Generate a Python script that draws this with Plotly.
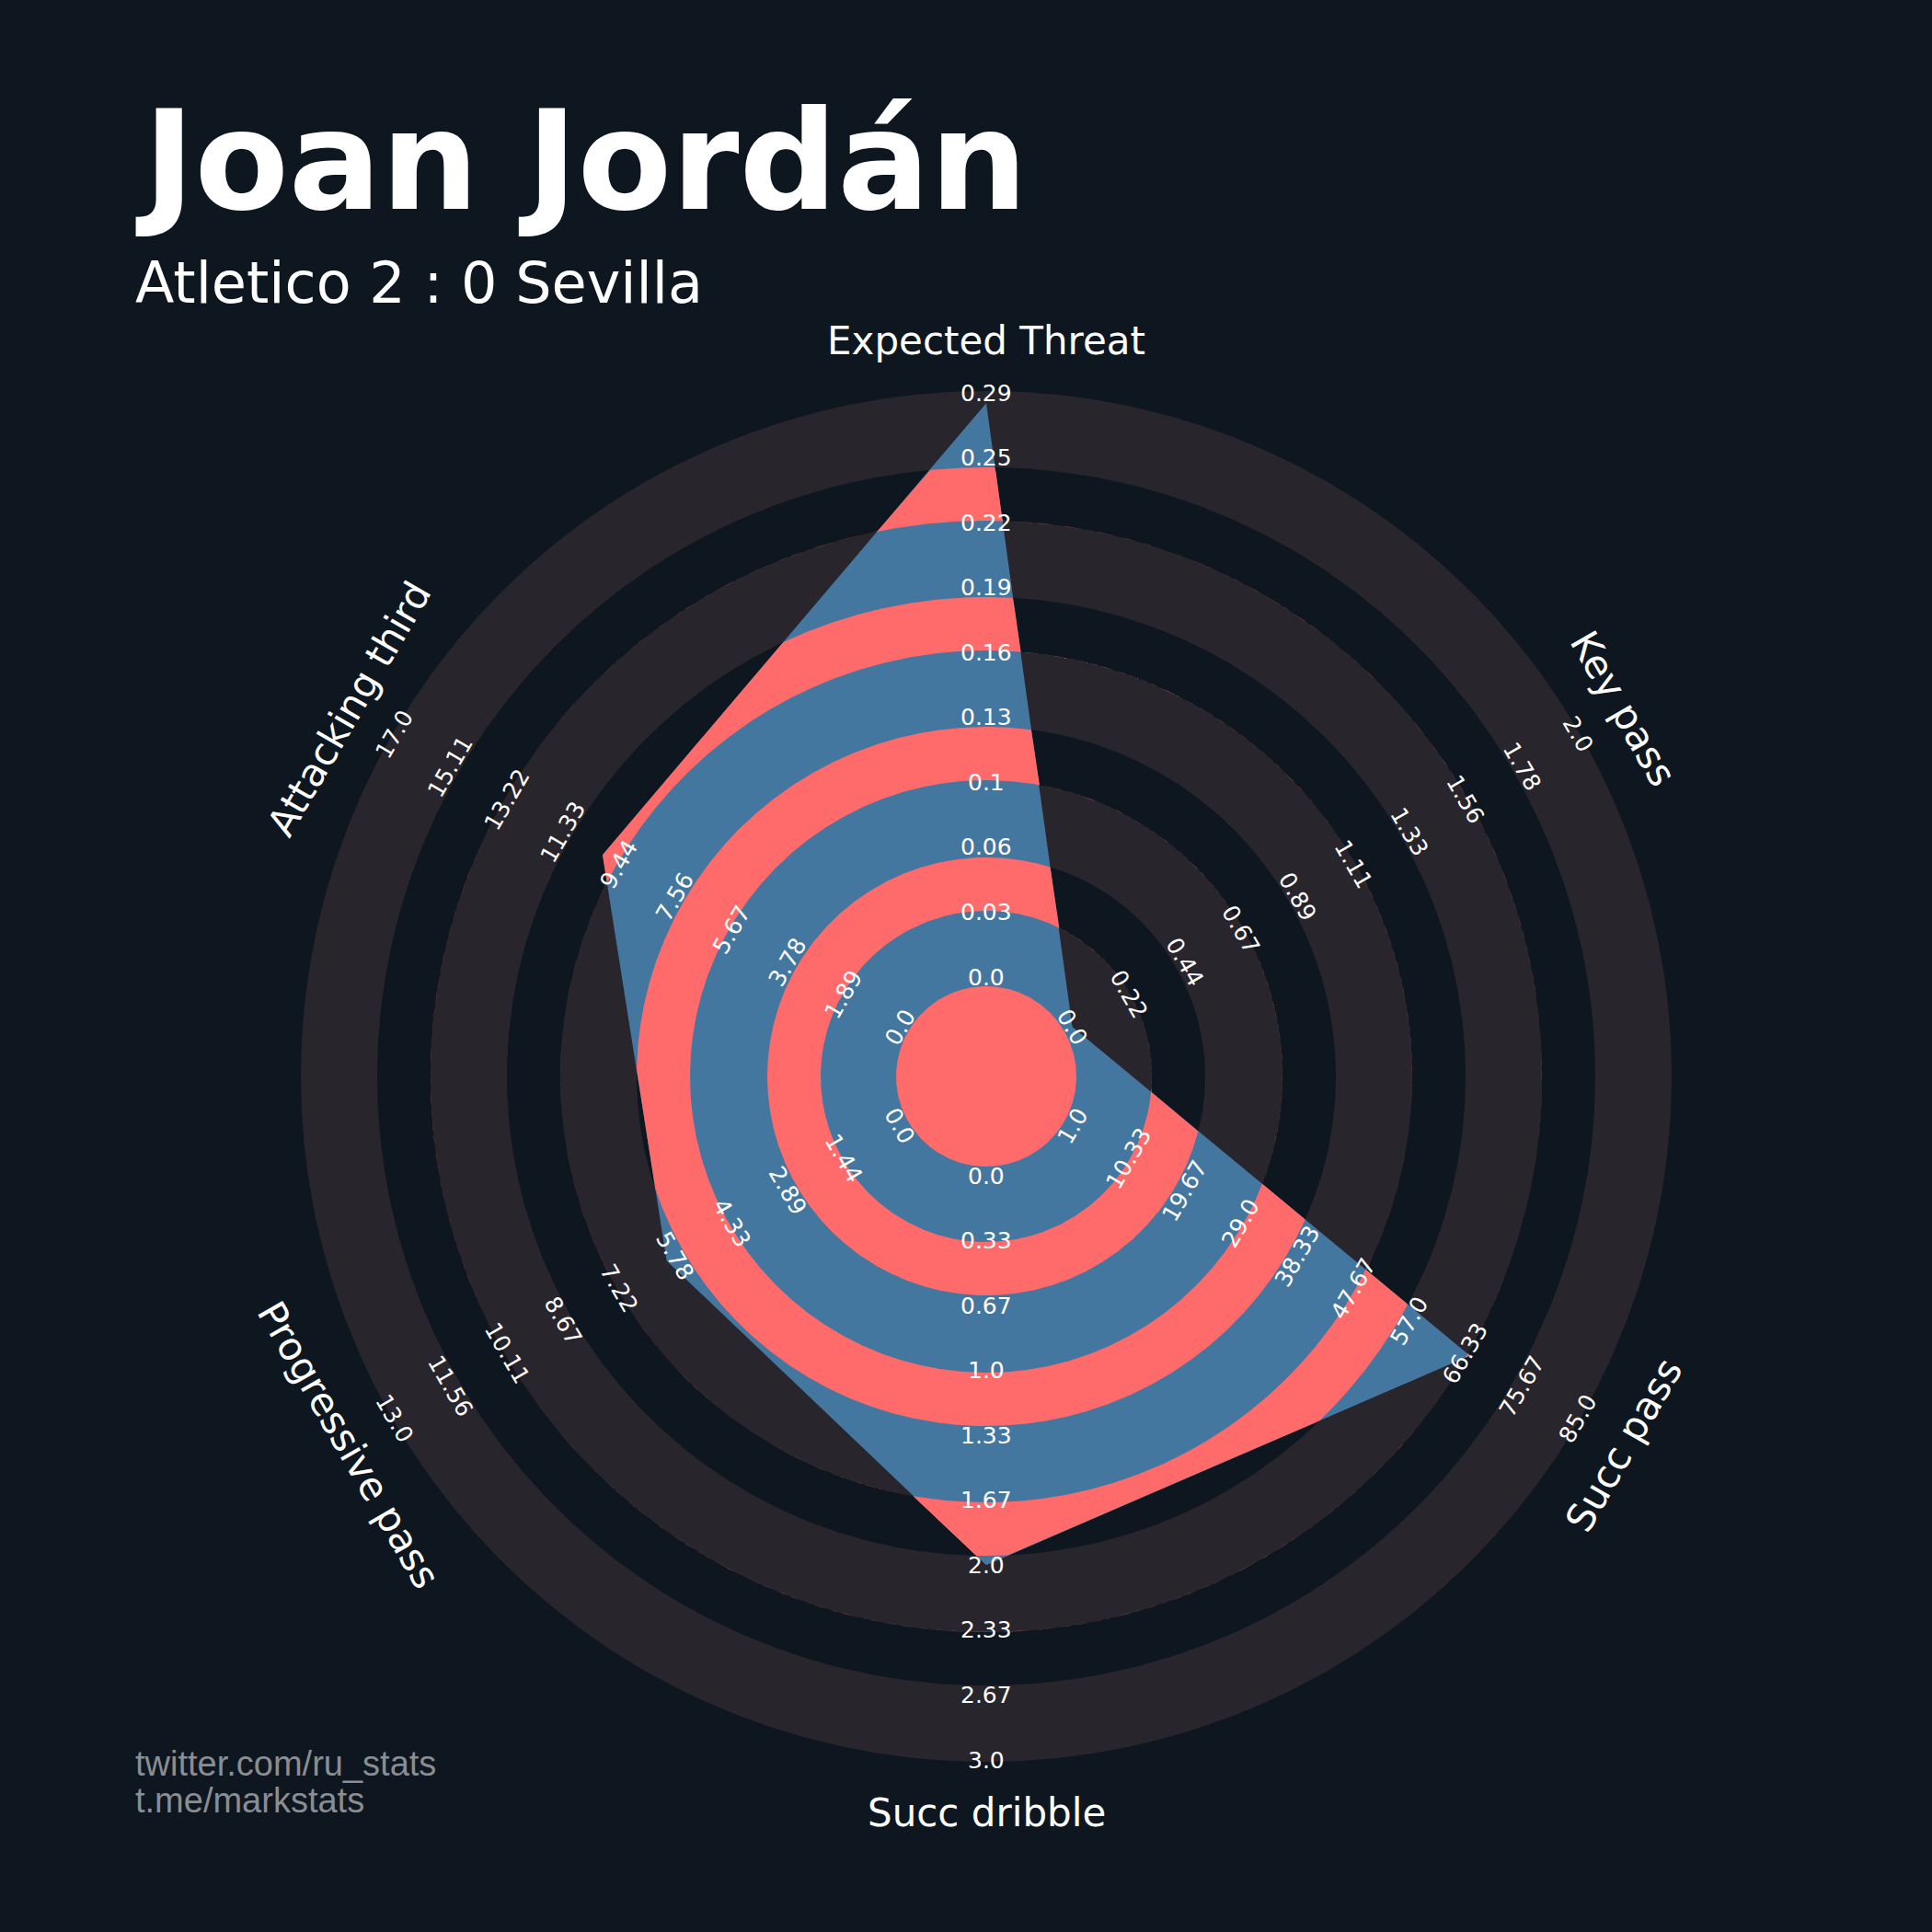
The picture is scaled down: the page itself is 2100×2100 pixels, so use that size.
import numpy as np
import plotly.graph_objects as go

# ---------------- data ----------------
params = ["Expected Threat", "Key pass", "Succ pass", "Succ dribble",
          "Progressive pass", "Attacking third"]
values = [0.28, 0.0, 67.0, 2.0, 6.0, 10.0]
range_low = [0.0, 0.0, 1.0, 0.0, 0.0, 0.0]
range_high = [0.285, 2.0, 85.0, 3.0, 13.0, 17.0]
range_labels = [
    ["0.0", "0.03", "0.06", "0.1", "0.13", "0.16", "0.19", "0.22", "0.25", "0.29"],
    ["0.0", "0.22", "0.44", "0.67", "0.89", "1.11", "1.33", "1.56", "1.78", "2.0"],
    ["1.0", "10.33", "19.67", "29.0", "38.33", "47.67", "57.0", "66.33", "75.67", "85.0"],
    ["0.0", "0.33", "0.67", "1.0", "1.33", "1.67", "2.0", "2.33", "2.67", "3.0"],
    ["0.0", "1.44", "2.89", "4.33", "5.78", "7.22", "8.67", "10.11", "11.56", "13.0"],
    ["0.0", "1.89", "3.78", "5.67", "7.56", "9.44", "11.33", "13.22", "15.11", "17.0"],
]
title = "Joan Jordán"
subtitle = "Atletico 2 : 0 Sevilla"
endnote = ["twitter.com/ru_stats", "t.me/markstats"]

# ---------------- styling / geometry ----------------
W = H = 2100
CX, CY = 1072, 1170           # radar centre in pixels
BG = "#0e1720"
RING_GRAY = "#28252c"
BLUE = "#4477a0"
RED = "#ff6b6b"
CENTER_R = 98
GRAY_RINGS = [(98, 180), (238, 322), (380, 463), (521, 604), (662, 745)]
RED_RINGS = [(180, 238), (322, 380), (463, 521), (604, 662)]
R0, R1 = 108, 743             # radial scale (min -> max)
PARAM_R = 800
FONT = "DejaVu Sans"


def scale(frac):
    return R0 + np.asarray(frac) * (R1 - R0)


n = len(params)
angles = np.pi / 2 - np.arange(n) * 2 * np.pi / n
fracs = [(v - lo) / (hi - lo) for v, lo, hi in zip(values, range_low, range_high)]
radii = scale(fracs)
P = np.stack([radii * np.cos(angles), radii * np.sin(angles)], axis=1)


def cross(a, b):
    return a[..., 0] * b[..., 1] - a[..., 1] * b[..., 0]


# polygon radius along each ray
thetas, rhos = [], []
for i in range(n):
    j = (i + 1) % n
    th = np.linspace(angles[i], angles[i] - 2 * np.pi / n, 400)
    E = P[j] - P[i]
    d = np.stack([np.cos(th), np.sin(th)], axis=1)
    rho = cross(P[i], E) / cross(d, E)
    thetas.append(th)
    rhos.append(rho)
thetas = np.concatenate(thetas)
rhos = np.concatenate(rhos)

fig = go.Figure()


def add_fill(x, y, color):
    fig.add_trace(go.Scatter(x=x, y=y, mode="lines", fill="toself",
                             fillcolor=color, line=dict(width=0, color=color),
                             hoverinfo="skip", showlegend=False))


circ = np.linspace(0, 2 * np.pi, 721)
# background rings
for r1, r2 in GRAY_RINGS:
    x = np.concatenate([r2 * np.cos(circ), r1 * np.cos(circ[::-1])])
    y = np.concatenate([r2 * np.sin(circ), r1 * np.sin(circ[::-1])])
    add_fill(x, y, RING_GRAY)

# radar polygon
add_fill(np.append(P[:, 0], P[0, 0]), np.append(P[:, 1], P[0, 1]), BLUE)

# red rings clipped to polygon
for r1, r2 in RED_RINGS:
    ro = np.clip(rhos, r1, r2)
    x = np.concatenate([ro * np.cos(thetas), r1 * np.cos(thetas[::-1])])
    y = np.concatenate([ro * np.sin(thetas), r1 * np.sin(thetas[::-1])])
    add_fill(x, y, RED)

# centre circle
add_fill(CENTER_R * np.cos(circ), CENTER_R * np.sin(circ), RED)

annotations = []


def text_angle(a_deg):
    rot = a_deg - 90
    while rot < -90:
        rot += 180
    while rot > 90:
        rot -= 180
    return -rot


for i in range(n):
    a = angles[i]
    ta = text_angle(np.degrees(a))
    nl = len(range_labels[i])
    for k, lab in enumerate(range_labels[i]):
        r = scale(k / (nl - 1))
        annotations.append(dict(x=r * np.cos(a), y=r * np.sin(a), xref="x", yref="y",
                                text=lab, showarrow=False, textangle=ta,
                                xanchor="center", yanchor="middle",
                                font=dict(family=FONT, size=25, color="white")))
    annotations.append(dict(x=PARAM_R * np.cos(a), y=PARAM_R * np.sin(a), xref="x", yref="y",
                            text=params[i], showarrow=False, textangle=ta,
                            xanchor="center", yanchor="middle",
                            font=dict(family=FONT, size=42, color="white")))

# titles (paper coords from pixels)
def px(xp):
    return xp / W


def py(yp):
    return 1 - yp / H


annotations.append(dict(x=px(145), y=py(176), xref="paper", yref="paper", text=title,
                        showarrow=False, xanchor="left", yanchor="middle",
                        font=dict(family=FONT, size=149, color="white", weight="bold")))
annotations.append(dict(x=px(145), y=py(307), xref="paper", yref="paper", text=subtitle,
                        showarrow=False, xanchor="left", yanchor="middle",
                        font=dict(family=FONT, size=62, color="white")))
for li, line in enumerate(endnote):
    annotations.append(dict(x=px(145), y=py(1917 + 40 * li), xref="paper", yref="paper",
                            text=line, showarrow=False, xanchor="left", yanchor="middle",
                            font=dict(family="Liberation Sans", size=38, color="#8a8d92")))

fig.update_layout(
    width=W, height=H, margin=dict(l=0, r=0, t=0, b=0),
    paper_bgcolor=BG, plot_bgcolor=BG,
    xaxis=dict(range=[-CX, W - CX], visible=False, domain=[0, 1], fixedrange=True),
    yaxis=dict(range=[CY - H, CY], visible=False, domain=[0, 1], fixedrange=True),
    annotations=annotations,
    showlegend=False,
)

fig.write_html("out.html",
               config={"displayModeBar": False, "staticPlot": True},
               post_script="document.body.style.margin='0';document.body.style.overflow='hidden';"
                           "document.body.style.background='%s';" % BG)
